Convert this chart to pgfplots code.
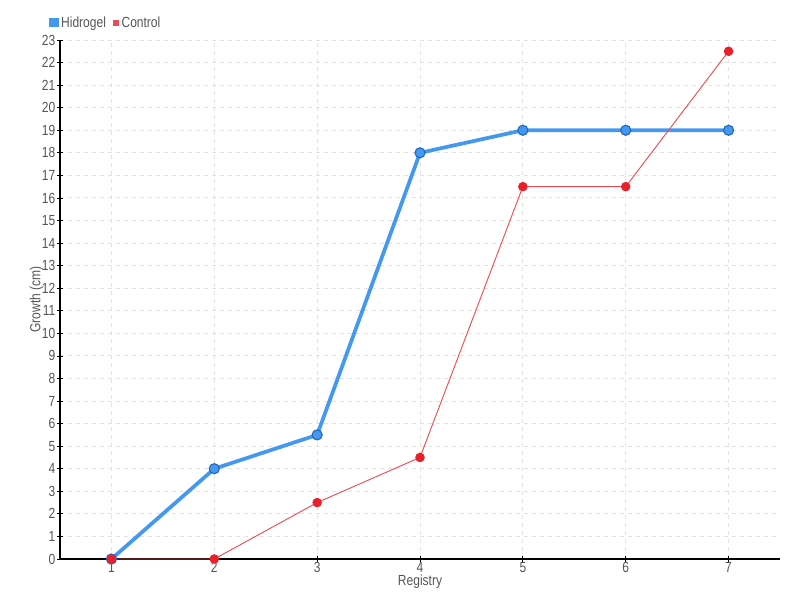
\documentclass[border=0pt]{standalone}
\usepackage{pgfplots}
\pgfplotsset{compat=1.18}
\usepackage{fontspec}
\setmainfont[FakeStretch=0.82]{Liberation Sans}
\definecolor{txt}{HTML}{555555}
\definecolor{hblue}{HTML}{4499EE}
\definecolor{hblueD}{HTML}{2266BB}
\definecolor{cred}{HTML}{E8202A}
\definecolor{gridc}{HTML}{E2E2E2}
\begin{document}
\begin{tikzpicture}[x=0.75pt,y=0.75pt]
\begin{axis}[
  name=ax,
  scale only axis, width=540pt, height=389.25pt,
  xmin=0.5, xmax=7.5, ymin=0, ymax=23,
  xtick={1,...,7}, ytick={0,...,23},
  axis x line*=bottom, axis y line*=left,
  axis line style={black, line width=0.8pt, -},
  tick style={black, line width=0.6pt},
  major tick length=4pt,
  tick align=center,
  grid=major,
  grid style={gridc, dashed, line width=0.7pt},
  ticklabel style={font=\fontsize{11}{11}\selectfont, text=txt},
  /pgf/number format/assume math mode=true,
  xticklabel style={yshift=3pt},
  yticklabel style={xshift=2pt},
  xlabel={Registry}, ylabel={Growth (cm)},
  label style={font=\fontsize{11}{11}\selectfont, text=txt},
  xlabel style={yshift=5pt},
  ylabel style={yshift=-8pt},
  legend style={at={(-0.015,1.015)}, anchor=south west, draw=none, fill=none,
    font=\fontsize{11}{11}\selectfont, text=txt, legend columns=2,
    /tikz/every even column/.append style={column sep=3pt},
    inner sep=0pt},
  legend image code/.code={\fill[#1] (1pt,-2pt) rectangle (5pt,2pt);},
  legend cell align=left,
  clip=false,
]
\addplot[hblue, line width=2.8pt, mark=*, mark size=3.8pt,
  mark options={fill=hblue, draw=hblueD, line width=0.8pt}]
  coordinates {(1,0) (2,4) (3,5.5) (4,18) (5,19) (6,19) (7,19)};
\addlegendentry{Hidrogel}
\addplot[cred!80, line width=0.7pt, mark=*, mark size=3.2pt,
  mark options={fill=cred, draw=cred}]
  coordinates {(1,0) (2,0) (3,2.5) (4,4.5) (5,16.5) (6,16.5) (7,22.5)};
\addlegendentry{Control}
\end{axis}
\pgfresetboundingbox
\path[use as bounding box] ([xshift=-45pt,yshift=-30.75pt]ax.south west) rectangle ++(600pt,450pt);
\end{tikzpicture}
\end{document}
